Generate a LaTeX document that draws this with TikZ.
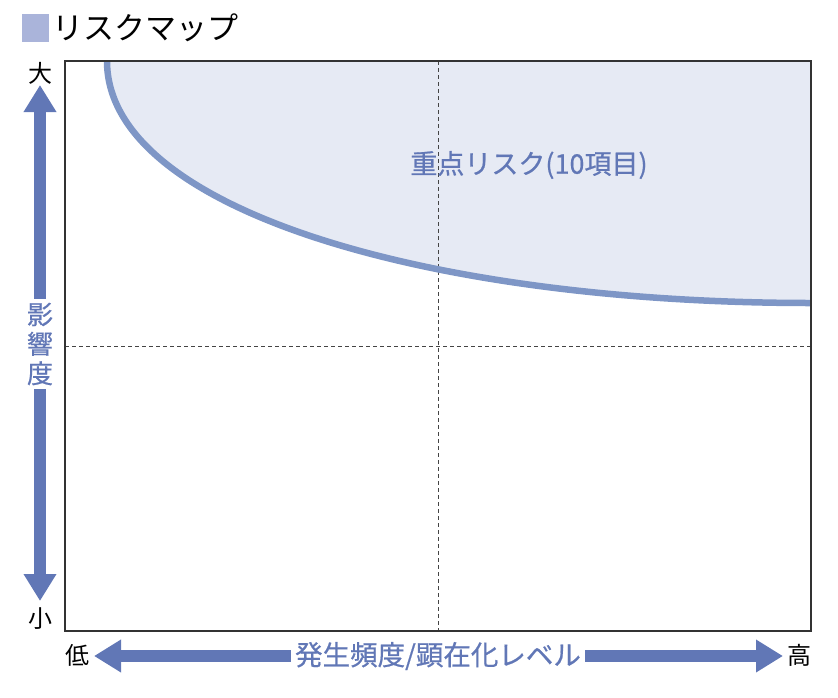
\documentclass[tikz,border=0pt]{standalone}
\usepackage{fontspec}
\setmainfont{Noto Sans CJK JP}
\newfontfamily\cjkmed[FakeBold=0.6]{Noto Sans CJK JP}
\usetikzlibrary{arrows.meta}
\definecolor{arrowblue}{HTML}{6177B6}
\definecolor{curveblue}{HTML}{7E96C6}
\definecolor{fillblue}{HTML}{E6EAF4}
\definecolor{titlesq}{HTML}{AAB4DA}
\definecolor{boxgray}{HTML}{333333}
\definecolor{dashgray}{HTML}{444444}
\tikzset{
  endlabel/.style={inner sep=0pt, text=black, font=\fontsize{24}{24}\selectfont},
  axislabel/.style={inner sep=4pt, text=arrowblue, font=\cjkmed\fontsize{27.5}{29}\selectfont},
  bigarrow/.style={arrowblue, line width=11.5pt, -{Triangle[length=27pt,width=31pt]}},
  guide/.style={dashgray, line width=1pt, dash pattern=on 4pt off 3pt},
}
\begin{document}
\begin{tikzpicture}[x=1pt,y=-1pt]
\useasboundingbox (0,0) rectangle (838,697);
% title
\node[fill=titlesq, minimum width=27pt, minimum height=28pt, inner sep=0pt] (sq) at (35.5,28) {};
\node[anchor=west, inner sep=0pt, font=\fontsize{31}{31}\selectfont] (title) at (52,28) {リスクマップ};
% filled region
\fill[fillblue] (107,61) .. controls (107,210) and (430,303) .. (811,303) -- (811,61) -- cycle;
% guides
\coordinate (vg1) at (438,61);
\coordinate (vg2) at (438,631);
\coordinate (hg1) at (65,346);
\coordinate (hg2) at (811,346);
\draw[guide] (vg1) -- (vg2);
\draw[guide] (hg1) -- (hg2);
% curve
\coordinate (cs) at (107,61);
\coordinate (ce) at (811,303);
\draw[curveblue, line width=6.5pt] (cs) .. controls (107,210) and (430,303) .. (ce);
% box
\draw[boxgray, line width=1.5pt] (65,61) rectangle (811,631);
% region label
\node[inner sep=0pt, text=arrowblue, font=\cjkmed\fontsize{27}{27}\selectfont] (key) at (529,165) {重点リスク(10項目)};
% vertical axis
\node[endlabel] (big) at (40,73) {大};
\node[endlabel] (small) at (40,619) {小};
\node[axislabel, align=center, inner sep=4pt, font=\cjkmed\fontsize{26}{29.5}\selectfont] (impact) at (40,344) {影\\響\\度};
\coordinate (toptip) at (40,85);
\coordinate (bottip) at (40,601);
\draw[bigarrow] (impact.north) -- (toptip);
\draw[bigarrow] (impact.south) -- (bottip);
% horizontal axis
\node[endlabel] (low) at (77,655) {低};
\node[endlabel] (high) at (799,655) {高};
\node[axislabel] (freq) at (438,656) {発生頻度/顕在化レベル};
\coordinate (lefttip) at (94,656);
\coordinate (righttip) at (783,656);
\draw[bigarrow] (freq.west) -- (lefttip);
\draw[bigarrow] (freq.east) -- (righttip);
\end{tikzpicture}
\end{document}
